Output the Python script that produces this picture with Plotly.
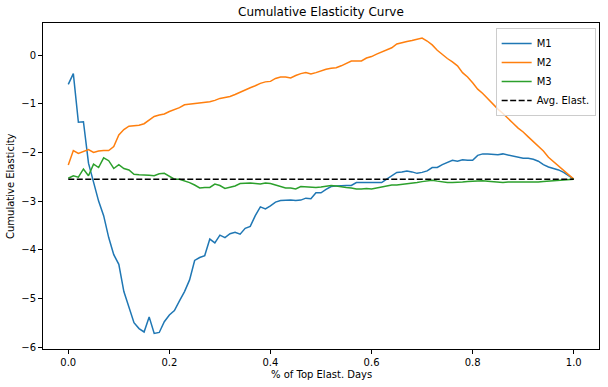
import plotly.graph_objects as go

x_vals = [i / 100 for i in range(101)]

m1 = [-0.60, -0.38, -1.38, -1.37, -2.22, -2.60, -3.00, -3.30, -3.75, -4.10,
      -4.30, -4.86, -5.18, -5.50, -5.62, -5.69, -5.38, -5.72, -5.70, -5.48,
      -5.34, -5.25, -5.05, -4.86, -4.62, -4.22, -4.16, -4.12, -3.78, -3.86,
      -3.70, -3.75, -3.67, -3.64, -3.68, -3.56, -3.52, -3.30, -3.12, -3.16,
      -3.10, -3.02, -2.99, -2.98, -2.98, -2.99, -2.98, -2.94, -2.95, -2.83,
      -2.83, -2.76, -2.70, -2.69, -2.68, -2.68, -2.68, -2.62, -2.62, -2.62,
      -2.61, -2.61, -2.62, -2.55, -2.48, -2.41, -2.40, -2.38, -2.40, -2.43,
      -2.41, -2.38, -2.31, -2.31, -2.25, -2.20, -2.16, -2.18, -2.15, -2.16,
      -2.16, -2.06, -2.03, -2.03, -2.04, -2.05, -2.03, -2.05, -2.07, -2.09,
      -2.12, -2.12, -2.14, -2.18, -2.25, -2.30, -2.33, -2.36, -2.41, -2.48,
      -2.55]

m2 = [-2.26, -1.96, -2.02, -1.98, -1.94, -2.00, -1.97, -1.96, -1.96, -1.88,
      -1.64, -1.53, -1.46, -1.45, -1.44, -1.41, -1.33, -1.26, -1.23, -1.21,
      -1.16, -1.12, -1.08, -1.02, -1.01, -1.00, -0.98, -0.97, -0.96, -0.93,
      -0.89, -0.87, -0.85, -0.81, -0.76, -0.71, -0.67, -0.63, -0.58, -0.55,
      -0.54, -0.48, -0.45, -0.45, -0.47, -0.42, -0.38, -0.36, -0.39, -0.36,
      -0.32, -0.29, -0.27, -0.26, -0.22, -0.17, -0.12, -0.12, -0.12, -0.06,
      -0.03, 0.02, 0.06, 0.10, 0.15, 0.23, 0.26, 0.28, 0.30, 0.32,
      0.35, 0.29, 0.21, 0.10, 0.01, -0.07, -0.14, -0.22, -0.36, -0.45,
      -0.57, -0.70, -0.79, -0.90, -1.02, -1.11, -1.20, -1.31, -1.40, -1.50,
      -1.58, -1.68, -1.77, -1.87, -1.97, -2.10, -2.19, -2.27, -2.37, -2.46,
      -2.55]

m3 = [-2.53, -2.48, -2.51, -2.34, -2.48, -2.24, -2.31, -2.11, -2.17, -2.33,
      -2.25, -2.33, -2.36, -2.45, -2.46, -2.46, -2.47, -2.48, -2.44, -2.43,
      -2.49, -2.55, -2.55, -2.58, -2.62, -2.67, -2.73, -2.72, -2.72, -2.65,
      -2.68, -2.74, -2.71, -2.69, -2.64, -2.63, -2.63, -2.64, -2.65, -2.63,
      -2.64, -2.67, -2.70, -2.73, -2.73, -2.75, -2.70, -2.71, -2.72, -2.72,
      -2.71, -2.70, -2.68, -2.69, -2.71, -2.72, -2.73, -2.75, -2.75, -2.74,
      -2.75, -2.73, -2.71, -2.69, -2.67, -2.67, -2.66, -2.64, -2.63, -2.62,
      -2.60, -2.59, -2.57, -2.59, -2.61, -2.62, -2.62, -2.62, -2.61, -2.60,
      -2.59, -2.58, -2.58, -2.59, -2.60, -2.62, -2.62, -2.61, -2.61, -2.61,
      -2.62, -2.62, -2.61, -2.61, -2.60, -2.59, -2.58, -2.57, -2.57, -2.56,
      -2.55]

avg_x = [0.0, 1.0]
avg_elast = [-2.55, -2.55]

series_names = ["M1", "M2", "M3"]
series_colors = ["#1f77b4", "#ff7f0e", "#2ca02c"]

fig = go.Figure()
for name, ys, col in zip(series_names, [m1, m2, m3], series_colors):
    fig.add_trace(go.Scatter(x=x_vals, y=ys, mode="lines", name=name,
                             line=dict(color=col, width=1.5)))
fig.add_trace(go.Scatter(x=avg_x, y=avg_elast, mode="lines", name="Avg. Elast.",
                         line=dict(color="black", width=1.5, dash="6px,2.5px")))

axis_common = dict(showline=True, linecolor="black", linewidth=1, mirror=True,
                   ticks="outside", ticklen=4, tickcolor="black", tickwidth=1,
                   showgrid=False, zeroline=False, automargin=False,
                   tickfont=dict(size=10, color="black"))

fig.update_layout(
    width=608, height=387,
    margin=dict(l=43, r=9, t=23, b=38),
    paper_bgcolor="white", plot_bgcolor="white",
    font=dict(family="DejaVu Sans", size=10, color="black"),
    xaxis=dict(range=[-0.05, 1.05], tickvals=[0, 0.2, 0.4, 0.6, 0.8, 1.0],
               tickformat=".1f", **axis_common),
    yaxis=dict(range=[-6.04, 0.66], tickvals=[-6, -5, -4, -3, -2, -1, 0],
               **axis_common),
    legend=dict(x=0.994, y=0.985, xanchor="right", yanchor="top",
                bgcolor="rgba(255,255,255,0.8)", bordercolor="#cccccc", borderwidth=1,
                font=dict(size=10), itemwidth=30, tracegroupgap=0),
    showlegend=True,
    annotations=[
        dict(text="Cumulative Elasticity Curve", xref="paper", yref="paper",
             x=0.5, y=1.0, yshift=11, xanchor="center", yanchor="middle",
             showarrow=False, font=dict(size=12, color="black")),
        dict(text="% of Top Elast. Days", xref="paper", yref="paper",
             x=0.5, y=0, yshift=-25, xanchor="center", yanchor="middle",
             showarrow=False, font=dict(size=10, color="black")),
        dict(text="Cumulative Elasticity", xref="paper", yref="paper",
             x=0, y=0.5, xshift=-33, xanchor="center", yanchor="middle",
             textangle=-90, showarrow=False, font=dict(size=10, color="black")),
    ],
)

fig.write_html(
    "out.html",
    config={"displayModeBar": False},
    post_script="document.body.style.margin='0px';document.body.style.overflow='hidden';",
)
